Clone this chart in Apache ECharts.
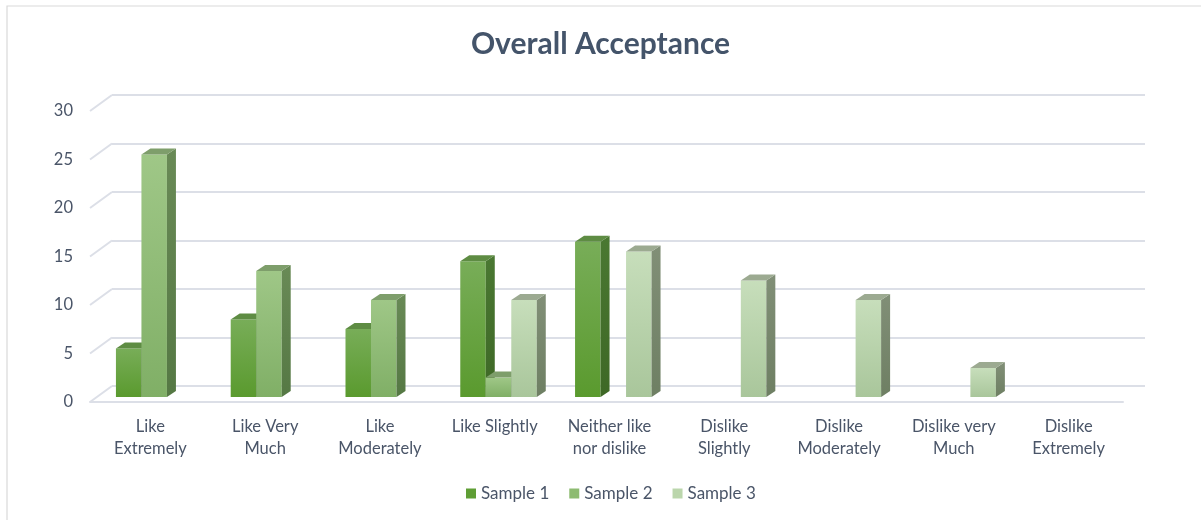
<!DOCTYPE html>
<html>
<head>
<meta charset="utf-8">
<script src="https://cdn.jsdelivr.net/npm/echarts@6/dist/echarts.min.js"></script>
<style>html,body{margin:0;padding:0;background:#fff;}#c{width:1201px;height:520px;}</style>
</head>
<body>
<div id="c"></div>
<script>
const categories = ['Like\nExtremely','Like Very\nMuch','Like\nModerately','Like Slightly','Neither like\nnor dislike','Dislike\nSlightly','Dislike\nModerately','Dislike very\nMuch','Dislike\nExtremely'];
const sample1 = [5, 8, 7, 14, 16, 0, 0, 0, 0];
const sample2 = [25, 13, 10, 2, 0, 0, 0, 0, 0];
const sample3 = [0, 0, 0, 10, 15, 12, 10, 3, 0];
const seriesNames = ['Sample 1', 'Sample 2', 'Sample 3'];
const yTicks = [0, 5, 10, 15, 20, 25, 30];

const palette = [
  {legend:'#5F9E35', frontTop:'#78AD58', frontBot:'#5A9A2E', side:'#4A7832', sideBot:'#3E6826', top:'#5E8C43'},
  {legend:'#8DBB71', frontTop:'#9FC787', frontBot:'#80AF66', side:'#698A56', sideBot:'#557844', top:'#7E9E6B'},
  {legend:'#BBD6AC', frontTop:'#C7DEBB', frontBot:'#A9C69B', side:'#818F77', sideBot:'#6E7F63', top:'#9CAA91'}
];

const BAR_W = 25.5, SHIFT_X = 6.8, SHIFT_Y = -5, DX = 9, DY = -6;

function makeBarSeries(idx, values) {
  const c = palette[idx];
  return {
    name: seriesNames[idx],
    type: 'custom',
    xAxisIndex: 0, yAxisIndex: 0,
    itemStyle: {color: c.legend},
    encode: {x: 0, y: 1},
    data: values.map((v, i) => [i, v]),
    z: 10,
    renderItem: function (params, api) {
      const ci = api.value(0), v = api.value(1);
      if (!v) return null;
      const pTop = api.coord([ci, v]);
      const pBot = api.coord([ci, 0]);
      const xl = pTop[0] + SHIFT_X - 1.5 * BAR_W + idx * BAR_W;
      const xr = xl + BAR_W;
      const yt = pTop[1] + SHIFT_Y;
      const yb = pBot[1] + SHIFT_Y;
      return {
        type: 'group',
        children: [
          {type: 'rect', shape: {x: xl, y: yt, width: BAR_W, height: yb - yt},
           style: {fill: new echarts.graphic.LinearGradient(0, 0, 0, 1, [{offset: 0, color: c.frontTop}, {offset: 1, color: c.frontBot}])}},
          {type: 'polygon', shape: {points: [[xr, yt], [xr + DX, yt + DY], [xr + DX, yb + DY], [xr, yb]]},
           style: {fill: new echarts.graphic.LinearGradient(0, 0, 0, 1, [{offset: 0, color: c.side}, {offset: 1, color: c.sideBot}])}},
          {type: 'polygon', shape: {points: [[xl, yt], [xr, yt], [xr + DX, yt + DY], [xl + DX, yt + DY]]},
           style: {fill: c.top}}
        ]
      };
    }
  };
}

const chart = echarts.init(document.getElementById('c'), null, {renderer: 'canvas'});
const textColor = '#4A5568';
const gridColor = '#DCDFE7';
chart.setOption({
  backgroundColor: '#ffffff',
  animation: false,
  title: {
    text: 'Overall Acceptance', left: 'center', top: 24,
    textStyle: {fontFamily: 'Lato', fontWeight: 'bold', fontSize: 30, color: '#44546A'}
  },
  legend: {
    bottom: 13, left: 461, itemWidth: 10, itemHeight: 10, itemGap: 20,
    icon: 'rect',
    data: seriesNames,
    textStyle: {fontFamily: 'Lato', fontSize: 17, color: textColor}
  },
  graphic: [{
    type: 'rect', shape: {x: 7, y: 6, width: 1220, height: 540},
    style: {fill: 'none', stroke: '#D9D9D9', lineWidth: 1.2}, silent: true, z: -10
  }],
  grid: [
    {left: 90, right: 78, top: 111, bottom: 118, containLabel: false},
    {left: 112, right: 56, top: 95, bottom: 134, containLabel: false}
  ],
  xAxis: [
    {type: 'category', gridIndex: 0, data: categories,
     axisLine: {show: true, lineStyle: {color: gridColor, width: 2}},
     axisTick: {show: false},
     axisLabel: {interval: 0, margin: 14, fontFamily: 'Lato', fontSize: 16.5, lineHeight: 22, color: textColor, padding: [0, 0, 0, 6]}},
    {type: 'category', gridIndex: 1, data: categories, show: false}
  ],
  yAxis: [
    {type: 'value', gridIndex: 0, min: 0, max: 30, interval: 5,
     axisLine: {show: false}, axisTick: {show: false}, splitLine: {show: false},
     axisLabel: {margin: 17, fontFamily: 'Lato', fontSize: 16.5, color: textColor}},
    {type: 'value', gridIndex: 1, min: 0, max: 30, interval: 5,
     axisLine: {show: false}, axisTick: {show: false}, axisLabel: {show: false},
     splitLine: {show: true, lineStyle: {color: gridColor, width: 2}}}
  ],
  series: [
    {
      type: 'custom', xAxisIndex: 0, yAxisIndex: 0, silent: true, z: 1,
      encode: {x: 0, y: 1},
      data: yTicks.map(v => [0, v]),
      renderItem: function (params, api) {
        const p = api.coord([0, api.value(1)]);
        const x0 = params.coordSys.x;
        return {type: 'line', shape: {x1: x0, y1: p[1], x2: x0 + 22, y2: p[1] - 16},
                style: {stroke: gridColor, lineWidth: 2}};
      }
    },
    makeBarSeries(0, sample1),
    makeBarSeries(1, sample2),
    makeBarSeries(2, sample3)
  ]
});
</script>
</body>
</html>
